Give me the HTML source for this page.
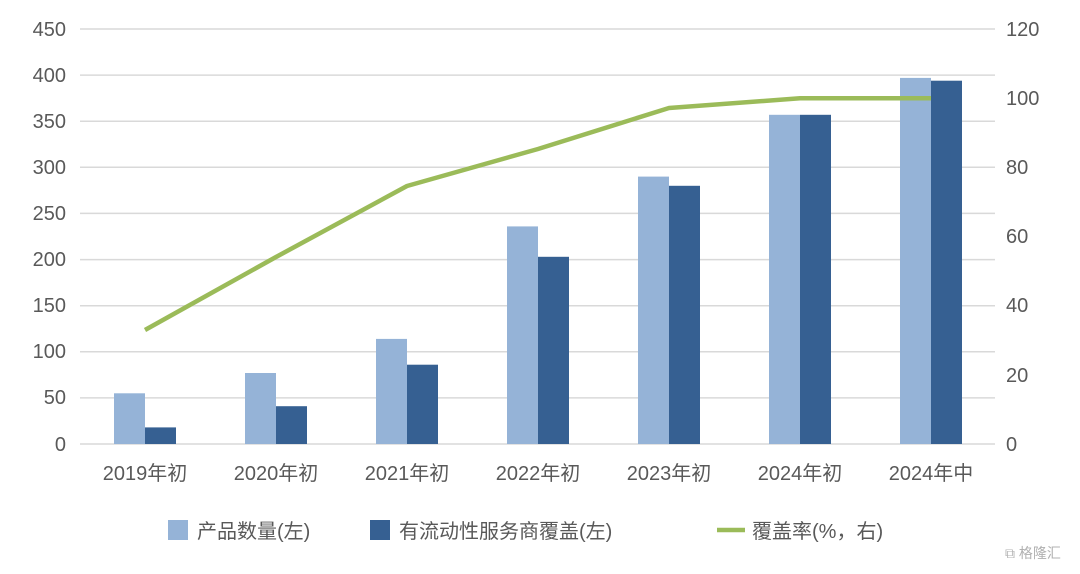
<!DOCTYPE html>
<html><head><meta charset="utf-8"><style>
body{margin:0;background:#fff;}
svg text{font-family:"Liberation Sans","Noto Sans CJK SC",sans-serif;fill:#595959;}
</style></head><body>
<svg width="1080" height="569" viewBox="0 0 1080 569" xmlns="http://www.w3.org/2000/svg">
<g stroke="#d9d9d9" stroke-width="1.5">
<line x1="80" x2="995" y1="29" y2="29"/><line x1="80" x2="995" y1="75.1" y2="75.1"/>
<line x1="80" x2="995" y1="121.2" y2="121.2"/><line x1="80" x2="995" y1="167.3" y2="167.3"/>
<line x1="80" x2="995" y1="213.4" y2="213.4"/><line x1="80" x2="995" y1="259.6" y2="259.6"/>
<line x1="80" x2="995" y1="305.7" y2="305.7"/><line x1="80" x2="995" y1="351.8" y2="351.8"/>
<line x1="80" x2="995" y1="397.9" y2="397.9"/><line x1="80" x2="995" y1="444" y2="444"/>
</g>
<g font-size="20" text-anchor="end">
<text x="66" y="36">450</text><text x="66" y="82">400</text><text x="66" y="128">350</text>
<text x="66" y="174">300</text><text x="66" y="220">250</text><text x="66" y="266">200</text>
<text x="66" y="312">150</text><text x="66" y="358">100</text><text x="66" y="404">50</text>
<text x="66" y="451">0</text>
</g>
<g font-size="20" text-anchor="start">
<text x="1006" y="36">120</text><text x="1006" y="105">100</text><text x="1006" y="174">80</text>
<text x="1006" y="243">60</text><text x="1006" y="312">40</text><text x="1006" y="382">20</text>
<text x="1006" y="451">0</text>
</g>
<g fill="#95b3d7">
<rect x="114" y="393.3" width="31" height="50.7"/>
<rect x="245" y="373" width="31" height="71"/>
<rect x="376" y="338.9" width="31" height="105.1"/>
<rect x="507" y="226.4" width="31" height="217.6"/>
<rect x="638" y="176.6" width="31" height="267.4"/>
<rect x="769" y="114.8" width="31" height="329.2"/>
<rect x="900" y="77.9" width="31" height="366.1"/>
</g>
<g fill="#366092">
<rect x="145" y="427.4" width="31" height="16.6"/>
<rect x="276" y="406.2" width="31" height="37.8"/>
<rect x="407" y="364.7" width="31" height="79.3"/>
<rect x="538" y="256.8" width="31" height="187.2"/>
<rect x="669" y="185.8" width="31" height="258.2"/>
<rect x="800" y="114.8" width="31" height="329.2"/>
<rect x="931" y="80.7" width="31" height="363.3"/>
</g>
<polyline fill="none" stroke="#9bbb59" stroke-width="4.5" stroke-linejoin="round" points="145,330 276,257 407,186 538,149 669,108 800,98.3 931,98.3"/>
<g font-size="20" text-anchor="middle">
<text x="145" y="480">2019年初</text><text x="276" y="480">2020年初</text><text x="407" y="480">2021年初</text>
<text x="538" y="480">2022年初</text><text x="669" y="480">2023年初</text><text x="800" y="480">2024年初</text>
<text x="931" y="480">2024年中</text>
</g>
<rect x="168" y="520" width="20" height="20" fill="#95b3d7"/>
<text x="197" y="538" font-size="20">产品数量(左)</text>
<rect x="370" y="520" width="20" height="20" fill="#366092"/>
<text x="399" y="538" font-size="20">有流动性服务商覆盖(左)</text>
<line x1="717" x2="745" y1="530" y2="530" stroke="#9bbb59" stroke-width="4.5"/>
<text x="752" y="538" font-size="20">覆盖率(%，右)</text>
<text x="1005" y="558" font-size="14" fill="#aaa" style="fill:#b0b0b0">⧉ 格隆汇</text>
</svg>
</body></html>
